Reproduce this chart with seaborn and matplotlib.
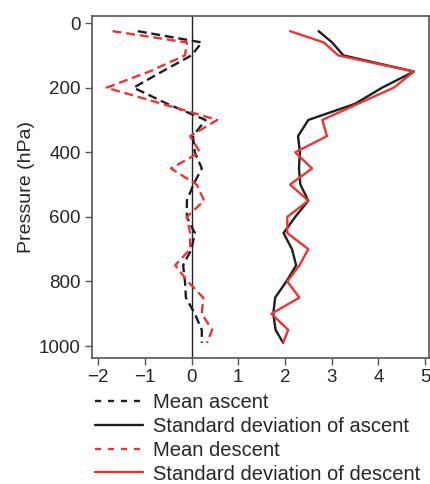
import numpy as np
import pandas as pd
import matplotlib
matplotlib.use("Agg")
import matplotlib.pyplot as plt
import seaborn as sns
from matplotlib.lines import Line2D

# Pressure levels (hPa)
pressure = [25, 60, 100, 150, 200, 250, 300, 350, 400, 450, 500,
            550, 600, 650, 700, 750, 800, 850, 900, 950, 990]

mean_ascent = [-1.15, 0.22, 0.0, -0.63, -1.24, -0.52, 0.3, 0.03, 0.07, 0.22, 0.04,
               -0.1, -0.1, 0.07, 0.0, -0.18, -0.14, -0.12, 0.07, 0.22, 0.22]
std_ascent = [2.72, 3.01, 3.25, 4.76, 4.08, 3.5, 2.5, 2.28, 2.32, 2.3, 2.33,
              2.5, 2.22, 1.97, 2.15, 2.24, 2.03, 1.79, 1.75, 1.8, 1.96]
mean_descent = [-1.69, -0.1, -0.14, -0.9, -1.82, -0.63, 0.55, -0.03, 0.18, -0.44, 0.11,
                0.27, -0.1, -0.03, -0.03, -0.35, -0.08, 0.25, 0.22, 0.44, 0.33]
std_descent = [2.11, 2.83, 3.14, 4.76, 4.33, 3.56, 2.8, 2.9, 2.22, 2.58, 2.11,
               2.5, 2.05, 2.05, 2.5, 2.31, 2.05, 2.31, 1.71, 2.07, 1.96]

labels = ["Mean ascent", "Standard deviation of ascent",
          "Mean descent", "Standard deviation of descent"]

sns.set_theme(style="white")
plt.rcParams["font.family"] = ["Liberation Sans", "DejaVu Sans"]

BLACK = "#1e1e1e"
RED = "#ee3333"
LW = 1.7
DASH = (3.8, 2.0)

fig = plt.figure(figsize=(4.31, 4.84), dpi=100)
ax = fig.add_axes([0.2135, 0.2603, 0.7815, 0.7067])

ax.axvline(0, color="#222222", lw=1.0, zorder=1)

series = [
    (mean_ascent, BLACK, DASH),
    (std_ascent, BLACK, None),
    (mean_descent, RED, DASH),
    (std_descent, RED, None),
]
for vals, col, dash in series:
    df = pd.DataFrame({"value": vals, "pressure": pressure})
    sns.lineplot(data=df, x="value", y="pressure", sort=False,
                 estimator=None, ax=ax, color=col, lw=LW)
    if dash is not None:
        ax.lines[-1].set_dashes(dash)

ax.set_xlim(-2.13, 5.08)
ax.set_ylim(1037, -22)
ax.set_xticks([-2, -1, 0, 1, 2, 3, 4, 5])
ax.set_yticks([0, 200, 400, 600, 800, 1000])
ax.set_xlabel("")
ax.set_ylabel("Pressure (hPa)", fontsize=14, labelpad=3)
ax.tick_params(axis="both", which="major", labelsize=13.5, length=5,
               width=1.0, color="#555555", direction="out",
               bottom=True, left=True, pad=3)
for s in ax.spines.values():
    s.set_color("#555555")
    s.set_linewidth(1.2)

handles = [
    Line2D([], [], color=BLACK, lw=LW, dashes=(2.6, 2.9)),
    Line2D([], [], color=BLACK, lw=LW),
    Line2D([], [], color=RED, lw=LW, dashes=(2.6, 2.9)),
    Line2D([], [], color=RED, lw=LW),
]
fig.legend(handles, labels, loc="upper left", bbox_to_anchor=(0.22, 0.188),
           frameon=False, fontsize=14.5, handlelength=2.4, handletextpad=0.5,
           labelspacing=0.24, borderpad=0, borderaxespad=0)

fig.savefig("out.png", dpi=100)
